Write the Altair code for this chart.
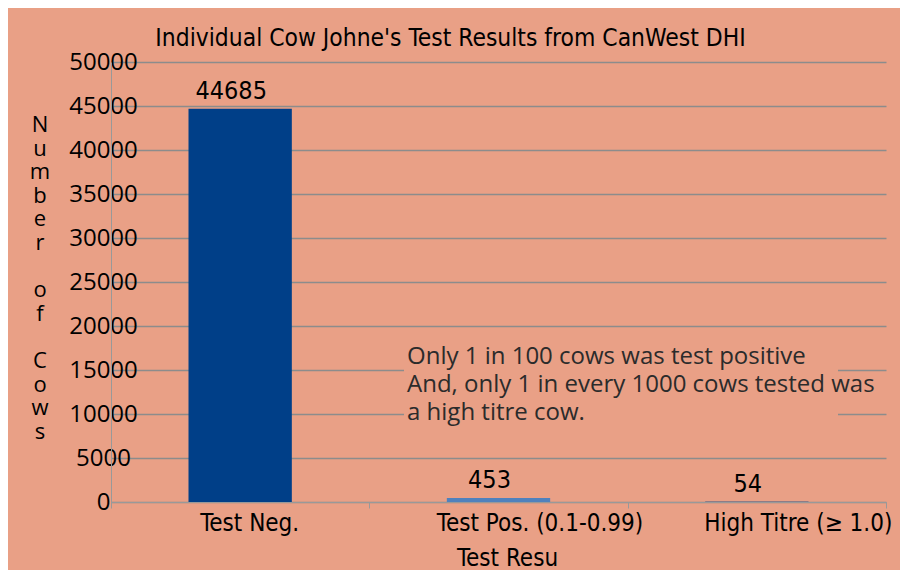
import altair as alt
import pandas as pd

categories = ["Test Neg.", "Test Pos. (0.1-0.99)", "High Titre (\u2265 1.0)"]
counts = [44685, 453, 54]
bar_colors = ["#003F88", "#4F81BD", "#4A5F86"]
y_ticks = list(range(0, 50001, 5000))
note_lines = [
    "Only 1 in 100 cows was test positive",
    "And, only 1 in every 1000 cows tested was",
    "a high titre cow.",
]
y_title_words = ["Number", "of", "Cows"]
chart_title = "Individual Cow Johne's Test Results from CanWest DHI"
x_title = "Test Resu"

df = pd.DataFrame({"result": categories, "count": counts, "color": bar_colors})

BG = "#E9A086"
GRID = "#8C8C8C"
NARROW = "Liberation Sans Narrow, DejaVu Sans Condensed, Arial Narrow, sans-serif"
SANS = "Open Sans, Noto Sans, sans-serif"
LINE_H = 23.6

x_enc = alt.X(
    "result:N",
    sort=categories,
    scale=alt.Scale(paddingInner=0, paddingOuter=0),
    axis=alt.Axis(
        title=x_title,
        labelAngle=0,
        labelLimit=0,
        labelFont=NARROW,
        labelFontSize=24,
        labelColor="black",
        labelPadding=3,
        labelOffset={"condition": {"test": "datum.value === 'Test Neg.'", "value": 9}, "value": 41},
        tickBand="extent",
        tickSize=6,
        tickColor="#999999",
        domainColor="#999999",
        titleFont=NARROW,
        titleFontSize=24,
        titleFontWeight="normal",
        titleColor="black",
        titleX=396,
        titleY=56,
        titleAlign="center",
        titleBaseline="middle",
        grid=False,
    ),
)

y_enc = alt.Y(
    "count:Q",
    scale=alt.Scale(domain=[0, 50000], nice=False),
    title=None,
    axis=alt.Axis(
        values=y_ticks,
        format="d",
        labelFont=SANS,
        labelFontSize=24,
        labelColor="black",
        labelAlign="center",
        labelBaseline="middle",
        labelPadding=8,
        tickSize=0,
        domainColor="#999999",
        gridColor=GRID,
        gridWidth=1.5,
    ),
)

base = alt.Chart(df)

bars = base.mark_bar(width=alt.RelativeBandSize(0.4)).encode(
    x=x_enc,
    y=y_enc,
    color=alt.Color("color:N", scale=None, legend=None),
)

labels = base.mark_text(
    baseline="bottom", dy=-5, dx=-9, font=NARROW, fontSize=25, color="black"
).encode(
    x=alt.X("result:N", sort=categories),
    y=alt.Y("count:Q", title=None),
    text=alt.Text("count:Q", format="d"),
)

one_row = pd.DataFrame({"a": [0]})

# stacked-letter y axis title: one multi-line text per word, with a blank line between words
y_title_layers = []
line_index = 0
for word in y_title_words:
    y_title_layers.append(
        alt.Chart(one_row)
        .mark_text(
            text=list(word),
            align="center",
            baseline="top",
            lineHeight=LINE_H,
            font=SANS,
            fontSize=22,
            color="black",
        )
        .encode(x=alt.value(-71), y=alt.value(53 + line_index * LINE_H))
    )
    line_index += len(word) + 1

note_box = alt.Chart(one_row).mark_rect(color=BG).encode(
    x=alt.value(293), x2=alt.value(727), y=alt.value(272), y2=alt.value(375)
)

note = alt.Chart(one_row).mark_text(
    text=note_lines,
    align="left",
    baseline="middle",
    lineHeight=28,
    font=SANS,
    fontSize=24,
    color="#2B2B2B",
).encode(x=alt.value(296), y=alt.value(295))

chart = (
    alt.layer(bars, note_box, note, labels, *y_title_layers)
    .properties(
        width=775,
        height=440,
        autosize=alt.AutoSizeParams(type="none"),
        padding={"left": 103, "top": 54, "right": 14, "bottom": 68},
        background=BG,
        title=alt.TitleParams(
            text=chart_title,
            font=NARROW,
            fontSize=24.4,
            fontWeight="normal",
            color="black",
            anchor="middle",
            dx=-48,
            dy=3,
            offset=2,
        ),
    )
    .configure_view(stroke=None)
)

chart.save("out.html", embed_options={"renderer": "svg", "actions": False})
